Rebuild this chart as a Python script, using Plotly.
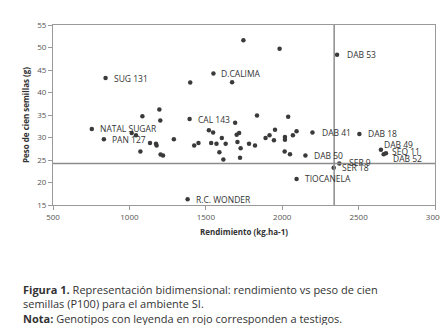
import plotly.graph_objects as go

# Unlabeled genotypes: rendimiento (kg/ha), P100 (g)
rend = [1085, 1196, 1202, 1015, 1043, 1135, 1174, 1178, 1072, 1204, 1220, 1291,
        1398, 1672, 1746, 1983, 1424, 1452, 1520, 1548, 1535, 1570, 1605, 1589,
        1615, 1692, 1702, 1718, 1707, 1630, 1728, 1783, 1822, 1724, 1835, 2039,
        1891, 1917, 1953, 1946, 2018, 2018, 2070, 2094, 2016, 2051]
peso = [34.7, 36.2, 33.8, 31.0, 30.5, 28.8, 28.6, 28.2, 26.9, 26.2, 26.0, 29.6,
        42.2, 42.3, 51.6, 49.7, 28.2, 28.8, 31.6, 31.1, 28.8, 28.6, 29.9, 26.7,
        25.1, 33.3, 30.6, 31.0, 29.0, 28.6, 27.6, 28.6, 28.2, 25.5, 34.9, 34.6,
        29.9, 30.5, 31.7, 29.4, 30.1, 29.5, 30.5, 31.4, 26.9, 26.3]

# Labeled genotypes
lab_names = ["SUG 131", "D.CALIMA", "DAB 53", "NATAL SUGAR", "PAN 127", "CAL 143",
             "DAB 41", "DAB 18", "DAB 50", "DAB 49", "SEQ 11", "DAB 52",
             "SER 9", "SER 18", "TIOCANELA", "R.C. WONDER"]
lab_rend = [844, 1550, 2359, 754, 833, 1394, 2198, 2505, 2152, 2646, 2679, 2664,
            2374, 2337, 2094, 1381]
lab_peso = [43.2, 44.2, 48.4, 31.9, 29.6, 34.1, 31.1, 30.8, 26.0, 27.3, 26.5, 26.3,
            24.2, 23.3, 20.8, 16.3]

# Reference lines (means)
mean_rend = 2340
mean_peso = 24.2

# label offsets (pixels): xshift, yshift
label_offsets = {
    "SUG 131": (6, 0), "D.CALIMA": (6, 0), "DAB 53": (8, 0), "NATAL SUGAR": (6, 0),
    "PAN 127": (6, 0), "CAL 143": (6, 0), "DAB 41": (8, 0), "DAB 18": (7, 0),
    "DAB 50": (7, 0), "DAB 49": (1, 5), "SEQ 11": (4, 2), "DAB 52": (7, -4),
    "SER 9": (8, 1), "SER 18": (6, 0), "TIOCANELA": (6, 0), "R.C. WONDER": (6, 0),
}

FONT = "Open Sans"
dot = dict(color="#3a3a3a", size=4.5)

fig = go.Figure()
fig.add_trace(go.Scatter(x=rend, y=peso, mode="markers", marker=dot,
                         showlegend=False, hoverinfo="x+y"))
fig.add_trace(go.Scatter(x=lab_rend, y=lab_peso, mode="markers", marker=dot,
                         text=lab_names, showlegend=False, hoverinfo="text+x+y"))

for n, xv, yv in zip(lab_names, lab_rend, lab_peso):
    dx, dy = label_offsets[n]
    fig.add_annotation(x=xv, y=yv, text=n, showarrow=False, xanchor="left",
                       yanchor="middle", xshift=dx, yshift=dy,
                       font=dict(family=FONT, size=8.5, color="#333333"))

fig.add_shape(type="line", x0=mean_rend, x1=mean_rend, y0=15, y1=55,
              xref="x", yref="y", line=dict(color="#8c8c8c", width=1.5))
fig.add_shape(type="line", x0=500, x1=3000, y0=mean_peso, y1=mean_peso,
              xref="x", yref="y", line=dict(color="#8c8c8c", width=1.5))

caption = ("<b>Figura 1.</b> Representación bidimensional: rendimiento vs peso de cien<br>"
           "semillas (P100) para el ambiente SI.<br>"
           "<b>Nota:</b> Genotipos con leyenda en rojo corresponden a testigos.")
fig.add_annotation(x=(13 - 45) / 383, y=(197 - 275) / 186, xref="paper", yref="paper",
                   text=caption, showarrow=False, xanchor="left", yanchor="top",
                   align="left", font=dict(family=FONT, size=11, color="#333333"))

axis_common = dict(showgrid=False, zeroline=False, showline=True, linecolor="#9a9a9a",
                   linewidth=1, mirror=True, ticks="outside", ticklen=4,
                   tickcolor="#9a9a9a",
                   tickfont=dict(family=FONT, size=8, color="#555555"))

fig.update_xaxes(range=[500, 3000], dtick=500, tick0=500,
                 title=dict(text="<b>Rendimiento (kg.ha-1)</b>", standoff=8,
                            font=dict(family=FONT, size=8, color="#333333")),
                 **axis_common)
fig.update_yaxes(range=[15, 55], dtick=5, tick0=15,
                 title=dict(text="<b>Peso de cien semillas (g)</b>", standoff=6,
                            font=dict(family=FONT, size=8, color="#333333")),
                 **axis_common)

fig.update_layout(width=448, height=325, margin=dict(l=45, r=20, t=11, b=128),
                  plot_bgcolor="white", paper_bgcolor="white",
                  font=dict(family=FONT))

fig.write_html("out.html")
